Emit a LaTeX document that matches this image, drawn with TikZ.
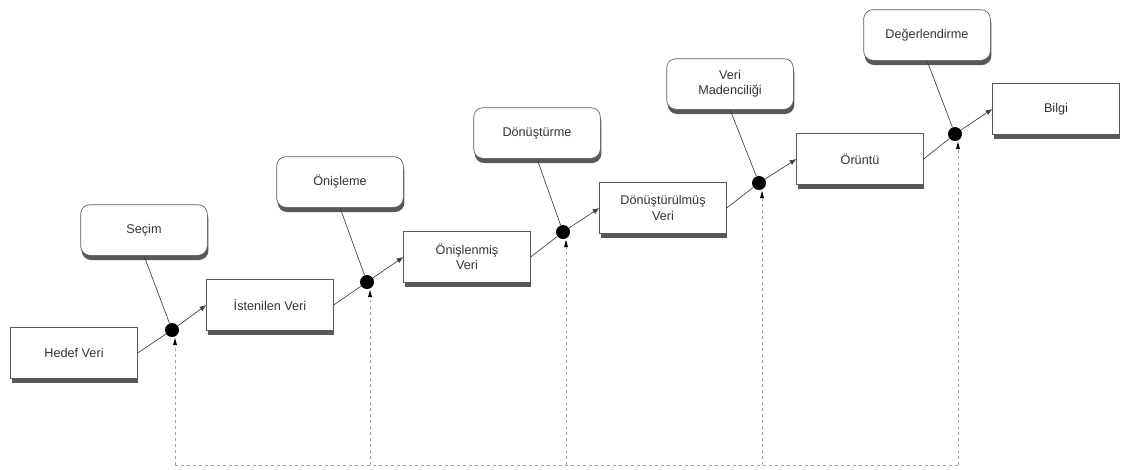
\documentclass[tikz,border=0pt]{standalone}
\usepackage{fontspec}
\setmainfont{Liberation Sans}
\usetikzlibrary{shadows,arrows.meta}
\begin{document}
\begin{tikzpicture}[x=0.75pt,y=-0.75pt,
  databox/.style={draw=gray!70!black,line width=0.5pt,fill=white,minimum width=95pt,minimum height=38pt,
    align=center,font=\fontsize{9.5}{11.5}\selectfont,text=black!80,inner sep=1pt,
    general shadow={shadow xshift=0.8pt,shadow yshift=-3.5pt,fill=black!65}},
  procbox/.style={databox,rounded corners=7pt},
  dot/.style={circle,fill=black,inner sep=0pt,minimum size=10.5pt},
  conn/.style={draw=black!75,line width=0.5pt},
  arr/.style={conn,-{Latex[length=5pt,width=4pt]}},
  fb/.style={draw=gray!70,line width=0.6pt,dash pattern=on 2.5pt off 2pt}
]
\useasboundingbox (0,0) rectangle (1123,469);
% data boxes
\node[databox] (hedef) at (74,353) {Hedef Veri};
\node[databox] (isten) at (270,305) {İstenilen Veri};
\node[databox] (onisl) at (467,257) {Önişlenmiş\\Veri};
\node[databox] (donus) at (663,208) {Dönüştürülmüş\\Veri};
\node[databox] (orun) at (860,159) {Örüntü};
\node[databox] (bilgi) at (1056,109) {Bilgi};
% process boxes
\node[procbox] (secim) at (144,230) {Seçim};
\node[procbox] (onisleme) at (340,182) {Önişleme};
\node[procbox] (donusturme) at (537,133) {Dönüştürme};
\node[procbox] (madencilik) at (730,84) {Veri\\Madenciliği};
\node[procbox] (degerl) at (927,35) {Değerlendirme};
% dots
\node[dot] (d1) at (172,330) {};
\node[dot] (d2) at (367,282) {};
\node[dot] (d3) at (563,232) {};
\node[dot] (d4) at (759,183) {};
\node[dot] (d5) at (955,134) {};
% connectors
\draw[conn] (hedef.east) -- (d1);
\draw[arr] (d1) -- (isten.west);
\draw[conn] (secim.south) -- (d1);
\draw[conn] (isten.east) -- (d2);
\draw[arr] (d2) -- (onisl.west);
\draw[conn] (onisleme.south) -- (d2);
\draw[conn] (onisl.east) -- (d3);
\draw[arr] (d3) -- (donus.west);
\draw[conn] (donusturme.south) -- (d3);
\draw[conn] (donus.east) -- (d4);
\draw[arr] (d4) -- (orun.west);
\draw[conn] (madencilik.south) -- (d4);
\draw[conn] (orun.east) -- (d5);
\draw[arr] (d5) -- (bilgi.west);
\draw[conn] (degerl.south) -- (d5);
% feedback
\coordinate (b1) at (175,465);
\coordinate (b2) at (370,465);
\coordinate (b3) at (566,465);
\coordinate (b4) at (762,465);
\coordinate (b5) at (958,465);
\coordinate (t1) at (175,339);
\coordinate (t2) at (370,291);
\coordinate (t3) at (566,241);
\coordinate (t4) at (762,192);
\coordinate (t5) at (958,143);
\draw[fb] (b1) -- (b5);
\foreach \i in {1,...,5}{
  \draw[fb] (b\i) -- (t\i);
  \fill[black] (t\i) ++(-2,6) -- ++(4,0) -- ++(-2,-7) -- cycle;
}
\end{tikzpicture}
\end{document}
